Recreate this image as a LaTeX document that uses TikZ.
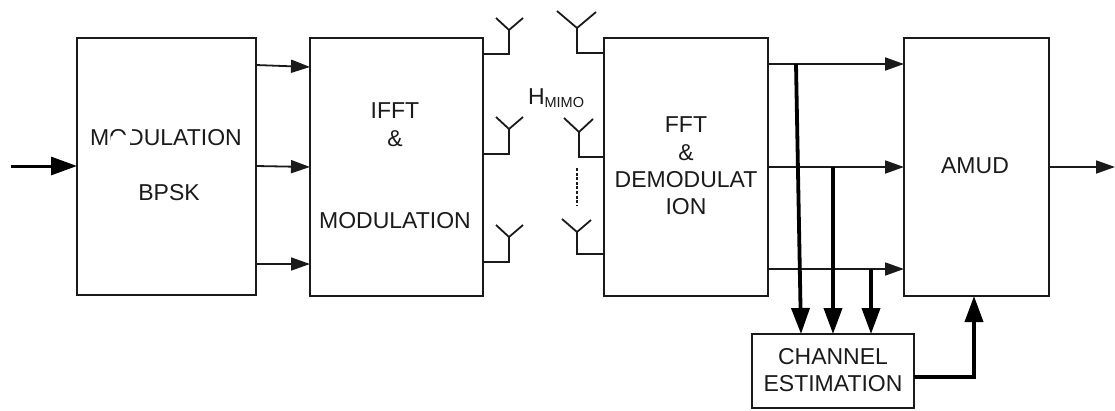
\documentclass[tikz,border=0pt]{standalone}
\usepackage{fontspec}
\setmainfont{Liberation Sans}
\usetikzlibrary{arrows.meta,calc}
\definecolor{ink}{HTML}{1A1A1A}
\tikzset{
  blockbox/.style={draw=ink,line width=1.8pt,rectangle,inner sep=0pt,outer sep=0pt},
  lbl/.style={inner sep=0pt,outer sep=0pt,text=ink,font=\fontsize{23}{27}\selectfont},
  link/.style={draw=ink,line width=1.8pt,-{Triangle[length=19pt,width=13pt]}},
  heavy/.style={draw=black,line width=3.8pt,-{Triangle[length=26pt,width=18pt]}},
  wire/.style={draw=ink,line width=1.8pt,line join=miter},
}
\begin{document}
\begin{tikzpicture}[x=1pt,y=-1pt]
\useasboundingbox (0,0) rectangle (1115,410);
% blocks
\node[blockbox,minimum width=179pt,minimum height=257pt] (mod) at (166.5,166.5) {};
\node[blockbox,minimum width=173pt,minimum height=258pt] (ifft) at (396.5,167) {};
\node[blockbox,minimum width=164pt,minimum height=258pt] (fft) at (686,167) {};
\node[blockbox,minimum width=145pt,minimum height=258pt] (amud) at (976.5,167) {};
\node[blockbox,minimum width=162pt,minimum height=74pt] (chan) at (833,371) {};
% labels
\node[lbl] (t1) at (166,137.5) {MODULATION};
\fill[white] (110.5,147) -- (110.5,137) .. controls (114,133) and (124,133) .. (127,136) -- (129,128) -- (132,128) -- (131,141) -- (129,147) -- cycle;
\node[lbl] (t2) at (169,192.5) {BPSK};
\node[lbl] (t3) at (395,111) {IFFT};
\node[lbl] (t4) at (395,139) {\&};
\node[lbl] (t5) at (395,220.5) {MODULATION};
\node[lbl,anchor=base west] (h) at (528,104) {H\raisebox{-3pt}{\fontsize{14.5}{16}\selectfont MIMO}};
\node[lbl] (t6) at (686,124.5) {FFT};
\node[lbl] (t7) at (686,152.5) {\&};
\node[lbl] (t8) at (686,179.5) {DEMODULAT};
\node[lbl] (t9) at (686,207) {ION};
\node[lbl] (t10) at (975,166) {AMUD};
\node[lbl] (t11) at (833,357) {CHANNEL};
\node[lbl] (t12) at (833,384) {ESTIMATION};
% free ends and ports
\coordinate (in) at (11,166);
\coordinate (out) at (1115,167);
\draw[draw=black,line width=3pt,-{Triangle[length=26pt,width=18pt]}] (in) -- (in -| mod.west);
\draw[link] (mod.east |- 0,65) -- (ifft.west |- 0,67);
\draw[link] (mod.east |- 0,166) -- (ifft.west |- 0,167);
\draw[link] (mod.east |- 0,264) -- (ifft.west |- 0,264);
% transmit antennas
\coordinate (ta) at (509,30);
\coordinate (tb) at (509,129);
\coordinate (tc) at (509,237);
\draw[wire] (ifft.east |- 0,54) -| (ta);
\draw[wire] (ifft.east |- 0,154) -| (tb);
\draw[wire] (ifft.east |- 0,262) -| (tc);
\draw[wire] (496,18) -- (ta) -- (523,18);
\draw[wire] (496,117) -- (tb) -- (523,117);
\draw[wire] (496,225) -- (tc) -- (523,225);
% receive antennas
\coordinate (ra) at (577,28);
\coordinate (rb) at (579,132);
\coordinate (rc) at (577,232);
\draw[wire] (fft.west |- 0,53) -| (ra);
\draw[wire] (fft.west |- 0,157) -| (rb);
\draw[wire] (fft.west |- 0,254) -| (rc);
\draw[wire] (557,11) -- (ra) -- (596,12);
\draw[wire] (564,118) -- (rb) -- (593,119);
\draw[wire] (562,219) -- (rc) -- (591,220);
\draw[draw=ink,line width=1.8pt,dash pattern=on 3pt off 1.6pt] (577,168) -- (577,205);
% outputs
\coordinate (oa) at (fft.east |- 0,64);
\coordinate (ob) at (fft.east |- 0,167);
\coordinate (oc) at (fft.east |- 0,269);
\draw[link] (oa) -- (oa -| amud.west);
\draw[link] (ob) -- (ob -| amud.west);
\draw[link] (oc) -- (oc -| amud.west);
\draw[link] (amud.east |- out) -- (out);
% channel estimation feeds
\draw[heavy] (796,64) -- (801,334);
\draw[heavy] (833,167) -- (chan.north -| 833,0);
\draw[heavy] (871,269) -- (871,334);
\draw[heavy] (chan.east |- 0,377) -| (amud.south -| 974,0);
\end{tikzpicture}
\end{document}
